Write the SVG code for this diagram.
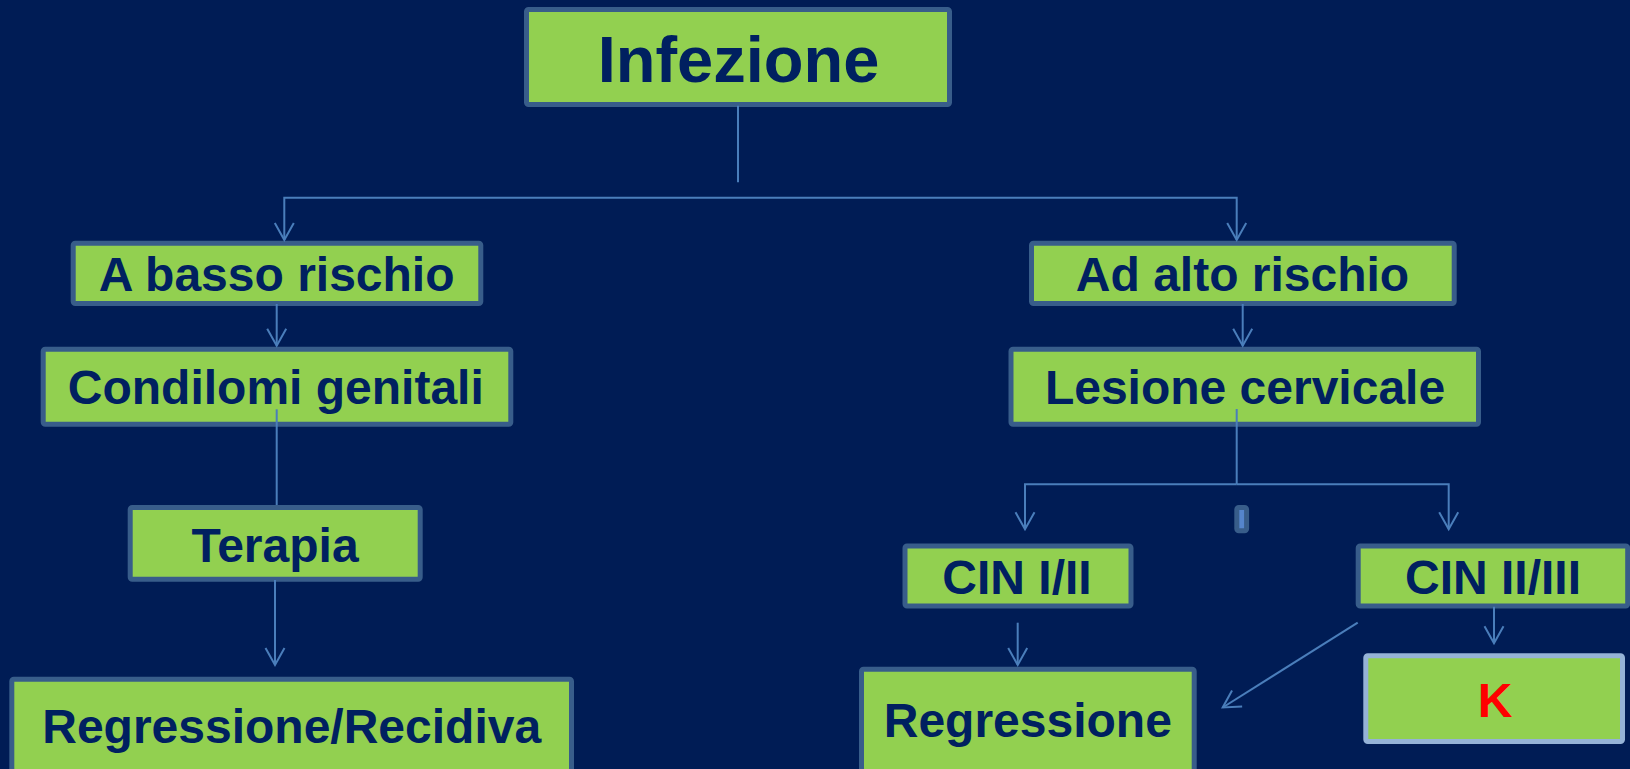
<svg xmlns="http://www.w3.org/2000/svg" width="1630" height="769" viewBox="0 0 1630 769">
<defs>
<style>
.box{fill:#92D050;stroke:#385D8A;stroke-width:5}
.kbox{fill:#92D050;stroke:#95B3D7;stroke-width:5}
.lbl{font-family:"Liberation Sans",Arial,sans-serif;font-weight:bold;font-size:48px;fill:#002060;text-anchor:middle}
.con{fill:none;stroke:#4A7EBB;stroke-width:2}
</style>
<marker id="ah" markerUnits="userSpaceOnUse" markerWidth="24" markerHeight="24" viewBox="-20 -12 24 24" refX="0" refY="0" orient="auto">
<path d="M-17,-9.5 L0,0 L-17,9.5" fill="none" stroke="#4A7EBB" stroke-width="2"/>
</marker>
</defs>
<rect width="1630" height="769" fill="#001C55"/>
<g id="n-infezione"><rect class="box" x="526.5" y="9.5" width="423" height="95" rx="2"/><text class="lbl" x="738.5" y="82" style="font-size:65px">Infezione</text></g>
<g id="n-basso"><rect class="box" x="73.2" y="243.2" width="407.6" height="60.3" rx="2"/><text class="lbl" x="276.7" y="291">A basso rischio</text></g>
<g id="n-condilomi"><rect class="box" x="43.2" y="349.2" width="467.6" height="75" rx="2"/><text class="lbl" x="275.8" y="404">Condilomi genitali</text></g>
<g id="n-terapia"><rect class="box" x="130.2" y="507.5" width="290" height="71.7" rx="2"/><text class="lbl" x="275" y="561.7">Terapia</text></g>
<g id="n-regrec"><rect class="box" x="11.8" y="679.2" width="559.7" height="120" rx="2"/><text class="lbl" x="291.7" y="743.3">Regressione/Recidiva</text></g>
<g id="n-alto"><rect class="box" x="1031.5" y="243.2" width="422.7" height="60.3" rx="2"/><text class="lbl" x="1242.5" y="291">Ad alto rischio</text></g>
<g id="n-lesione"><rect class="box" x="1011" y="349.2" width="467.5" height="75" rx="2"/><text class="lbl" x="1245" y="404">Lesione cervicale</text></g>
<g id="n-small"><rect x="1236.8" y="507.5" width="9.8" height="23.3" rx="2" fill="#5585CC" stroke="#385D8A" stroke-width="5"/></g>
<g id="n-cin12"><rect class="box" x="905" y="546" width="226" height="60" rx="2"/><text class="lbl" x="1017" y="594.3">CIN I/II</text></g>
<g id="n-cin23"><rect class="box" x="1358.2" y="546" width="269.5" height="60" rx="2"/><text class="lbl" x="1493" y="593.5">CIN II/III</text></g>
<g id="n-regressione"><rect class="box" x="861.5" y="669.2" width="332.7" height="120" rx="2"/><text class="lbl" x="1027.8" y="736.7">Regressione</text></g>
<g id="n-k"><rect class="kbox" x="1365.8" y="655.8" width="256.7" height="85.7" rx="2"/><text class="lbl" x="1495" y="716.7" style="fill:#FF0000">K</text></g>
<g id="connectors">
<path class="con" d="M738,105.7 V182.3"/>
<path class="con" d="M738,197.7 H284.3 V240" marker-end="url(#ah)"/>
<path class="con" d="M738,197.7 H1236.7 V240" marker-end="url(#ah)"/>
<path class="con" d="M276.7,304 V345.7" marker-end="url(#ah)"/>
<path class="con" d="M276.7,409.3 V505"/>
<path class="con" d="M275,580 V665" marker-end="url(#ah)"/>
<path class="con" d="M1242.7,304 V345.7" marker-end="url(#ah)"/>
<path class="con" d="M1236.7,409 V484.3"/>
<path class="con" d="M1236.7,484.3 H1025 V529.3" marker-end="url(#ah)"/>
<path class="con" d="M1236.7,484.3 H1448.7 V529.3" marker-end="url(#ah)"/>
<path class="con" d="M1017.7,622.7 V665" marker-end="url(#ah)"/>
<path class="con" d="M1357.7,622.7 L1222.7,707.5" marker-end="url(#ah)"/>
<path class="con" d="M1494,606.7 V643.3" marker-end="url(#ah)"/>
</g>
</svg>
